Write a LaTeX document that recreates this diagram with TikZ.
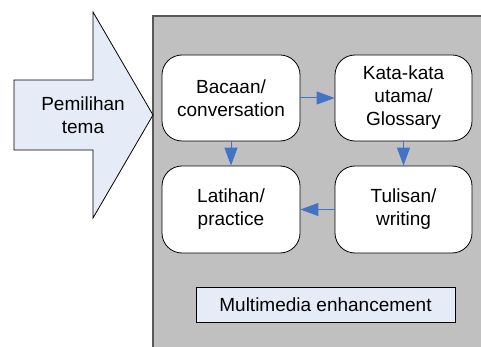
\documentclass[tikz,border=0pt]{standalone}
\usepackage{fontspec}
\setmainfont{Liberation Sans}
\usetikzlibrary{arrows.meta}

\definecolor{panelgray}{RGB}{192,192,192}
\definecolor{paleblue}{RGB}{230,236,247}
\definecolor{flowblue}{RGB}{68,114,196}

\tikzset{
  stepbox/.style={draw=black, fill=white, rounded corners=20pt, line width=0.8pt,
    align=center, inner sep=2pt},
  flow/.style={draw=flowblue, line width=1pt, -{Triangle[length=18pt,width=13pt]}}
}

\begin{document}
\begin{tikzpicture}[x=1pt, y=-1pt, font=\fontsize{19}{23}\selectfont]
  \useasboundingbox (0,0) rectangle (481,347);
  % panel
  \begin{scope}
    \clip (0,0) rectangle (481,347);
    \draw[line width=1.5pt, draw=black!65, fill=panelgray] (153,16) rectangle (495,360);
  \end{scope}

  % big arrow
  \draw[line width=0.8pt, fill=paleblue] (14,80) -- (93,80) -- (93,12) -- (153,115)
    -- (93,218) -- (93,150) -- (14,150) -- cycle;
  \node (tema) at (83,115) [align=center] {Pemilihan\\tema};

  % boxes
  \node[stepbox, minimum width=138pt, minimum height=86pt] (bacaan) at (231,98) {Bacaan/\\conversation};
  \node[stepbox, minimum width=137pt, minimum height=86pt] (kata) at (403.5,98) {Kata-kata\\utama/\\Glossary};
  \node[stepbox, minimum width=138pt, minimum height=87pt] (latihan) at (231,209.5) {Latihan/\\practice};
  \node[stepbox, minimum width=137pt, minimum height=87pt] (tulisan) at (403.5,209.5) {Tulisan/\\writing};

  \node[draw=black, fill=paleblue, line width=0.8pt, minimum width=259pt, minimum height=35pt,
    inner sep=0pt] (media) at (325.5,304.5) {Multimedia enhancement};

  % connectors
  \draw[flow] (bacaan) -- (kata);
  \draw[flow] (kata) -- (tulisan);
  \draw[flow] (bacaan) -- (latihan);
  \draw[flow] (tulisan) -- (latihan);
\end{tikzpicture}
\end{document}
